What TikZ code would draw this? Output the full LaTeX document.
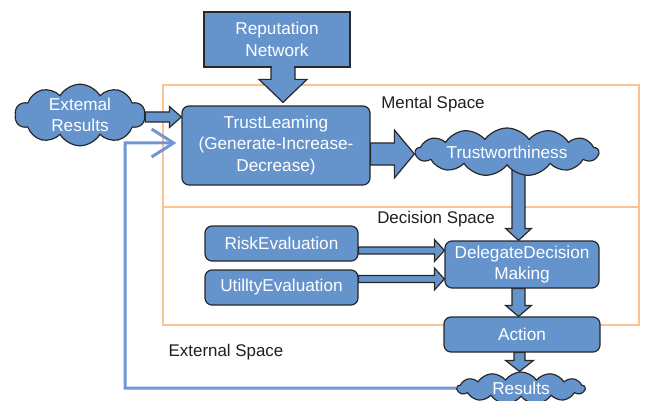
\documentclass[tikz,border=0pt]{standalone}
\usepackage{fontspec}
\setmainfont{Liberation Sans}
\usetikzlibrary{shapes.symbols,arrows.meta,calc}
\definecolor{boxblue}{RGB}{101,148,204}
\definecolor{edgegray}{RGB}{40,40,40}
\definecolor{spaceorange}{RGB}{250,195,145}
\definecolor{fbblue}{RGB}{112,150,214}
\definecolor{labelgray}{RGB}{30,30,30}
\pgfdeclarelayer{backzero}
\pgfdeclarelayer{backone}
\pgfsetlayers{backzero,backone,main}
% horizontal block arrow: start, end, shaft half, head half, head length
\newcommand\HArrow[5]{%
  \draw[barrow] let \p1=(#1), \p2=(#2) in
   (\x1,\y1+#3) -- (\x2-#5,\y1+#3) -- (\x2-#5,\y1+#4) -- (\x2,\y1)
   -- (\x2-#5,\y1-#4) -- (\x2-#5,\y1-#3) -- (\x1,\y1-#3) -- cycle;}
% vertical (downward) block arrow
\newcommand\VArrow[5]{%
  \draw[barrow] let \p1=(#1), \p2=(#2) in
   (\x2-#3,\y1) -- (\x2-#3,\y2+#5) -- (\x2-#4,\y2+#5) -- (\x2,\y2)
   -- (\x2+#4,\y2+#5) -- (\x2+#3,\y2+#5) -- (\x2+#3,\y1) -- cycle;}
\begin{document}
\begin{tikzpicture}[x=1pt,y=-1pt,
  font=\fontsize{17.2}{21.5}\selectfont,
  boxrect/.style={draw=edgegray,fill=boxblue,line width=1.2pt,text=white,
    align=center,inner sep=0pt},
  rbox/.style={boxrect,rounded corners=7pt},
  cloudbox/.style={boxrect,cloud,cloud puffs=13,cloud puff arc=110,
    cloud ignores aspect},
  barrow/.style={draw=edgegray,fill=boxblue,line width=1.2pt,line join=miter},
  spaceline/.style={draw=spaceorange,line width=2.2pt},
  spacelabel/.style={text=labelgray,font=\fontsize{16.9}{20}\selectfont},
  fbline/.style={draw=fbblue,line width=3pt}]
\useasboundingbox (0,0) rectangle (645,401);

% nodes
\node[boxrect,minimum width=146pt,minimum height=55pt] (rep) at (277,39.5) {Reputation\\Network};
\node[rbox,minimum width=188pt,minimum height=79pt] (trust) at (276,145.5) {TrustLeaming\\(Generate-Increase-\\Decrease)};
\node[cloudbox,minimum width=183pt,minimum height=48pt] (tw) at (507,152) {Trustworthiness};
\node[cloudbox,cloud puffs=10,cloud puff arc=120,minimum width=130pt,minimum height=55pt] (ext) at (80,115) {Extemal\\Results};
\node[rbox,minimum width=153pt,minimum height=35pt] (risk) at (281.5,243.5) {RiskEvaluation};
\node[rbox,minimum width=153pt,minimum height=35pt] (util) at (281.5,287.5) {UtilltyEvaluation};
\node[rbox,minimum width=154pt,minimum height=47pt] (dd) at (522,264.5) {DelegateDecision\\Making};
\node[rbox,minimum width=156pt,minimum height=35pt] (act) at (522,334.5) {Action};
\node[cloudbox,minimum width=128pt,minimum height=32pt] (res) at (521,388) {Results};

% space labels
\node[spacelabel] (lmental) at (433,104) {Mental Space};
\node[spacelabel] (ldecision) at (436,219) {Decision Space};
\node[spacelabel] (lexternal) at (226,352) {External Space};

% space frames
\begin{pgfonlayer}{backzero}
  \coordinate (sptl) at (163,85);
  \coordinate (spbr) at (639,325);
  \coordinate (spml) at (163,207);
  \coordinate (spmr) at (639,207);
  \draw[spaceline] (sptl) rectangle (spbr);
  \draw[spaceline] (spml) -- (spmr);
\end{pgfonlayer}

% block arrows
\begin{pgfonlayer}{backone}
  \HArrow{[yshift=-2pt]ext.east}{trust.west}{5pt}{10.5pt}{12pt}
  \HArrow{[yshift=-8.5pt]trust.east}{tw.west}{11pt}{24pt}{20pt}
  \VArrow{tw.south}{[xshift=-3.5pt]dd.north}{6.5pt}{13pt}{12pt}
  \HArrow{[yshift=-7pt]risk.east}{dd.west}{3.5pt}{11pt}{10pt}
  \HArrow{[yshift=8.5pt]util.east}{dd.west}{3.5pt}{11pt}{10pt}
  \VArrow{dd.south}{[xshift=-3.5pt]act.north}{6.5pt}{13pt}{11pt}
  \VArrow{act.south}{[xshift=-1.5pt]res.north}{5.5pt}{14pt}{11pt}
  % feedback line
  \coordinate (fbcorner) at (125,388);
  \coordinate (fbend) at ([yshift=2.5pt,xshift=-5pt]trust.west);
  \draw[fbline,-{Straight Barb[length=22pt,width=28pt]}] (res.west) -- (fbcorner) |- (fbend);
\end{pgfonlayer}

% reputation callout stem
\coordinate (stemtip) at ([xshift=7pt,yshift=3pt]trust.north);
\coordinate (stemtop) at (rep.south -| stemtip);
\VArrow{rep.south}{stemtip}{12pt}{24pt}{23pt}
\fill[boxblue] ([xshift=-11.3pt,yshift=1.6pt]stemtop) rectangle ([xshift=11.3pt,yshift=-1.6pt]stemtop);
\end{tikzpicture}
\end{document}
